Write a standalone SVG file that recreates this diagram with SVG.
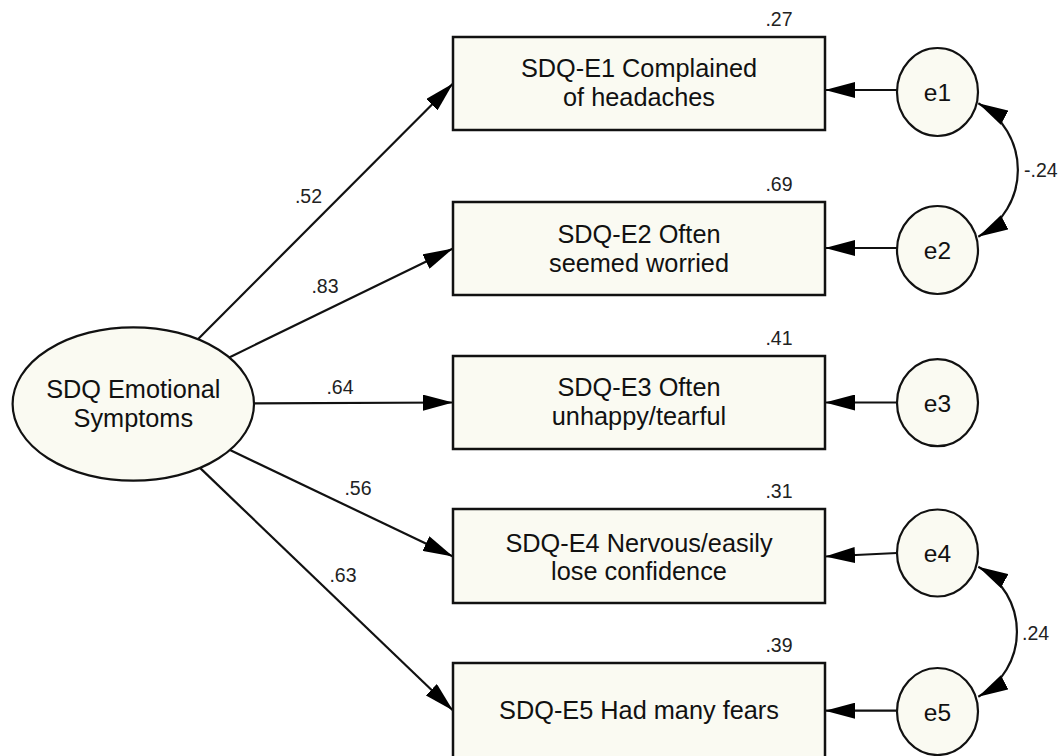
<svg xmlns="http://www.w3.org/2000/svg" width="1059" height="756" viewBox="0 0 1059 756">
<style>
.box{fill:#fafaf2;stroke:#111;stroke-width:2.5}
.lat{fill:#fafaf2;stroke:#111;stroke-width:2.2}
.t{font-family:"Liberation Sans",Arial,sans-serif;font-size:25.3px;fill:#111;text-anchor:middle}
.te{font-family:"Liberation Sans",Arial,sans-serif;font-size:24.5px;fill:#111;text-anchor:middle}
.lbl{font-family:"Liberation Sans",Arial,sans-serif;font-size:19.5px;fill:#222;text-anchor:middle}
.lblL{font-family:"Liberation Sans",Arial,sans-serif;font-size:19.5px;fill:#222;text-anchor:start}
.c{fill:none;stroke:#111;stroke-width:2.2;marker-end:url(#ah)}
.cv{fill:none;stroke:#111;stroke-width:2.2;marker-start:url(#ah);marker-end:url(#ah)}
</style>
<defs>
<marker id="ah" markerUnits="userSpaceOnUse" markerWidth="30" markerHeight="16" refX="30" refY="8" orient="auto-start-reverse" viewBox="0 0 30 16">
<path d="M0,0 L30,8 L0,16 z" fill="#000"/>
</marker>
</defs>
<rect width="1059" height="756" fill="#fff"/>
<g id="connectors">
<path class="c" d="M197.9,339.2 L453,83.5"/>
<path class="c" d="M229.2,357.4 L453,248.5"/>
<path class="c" d="M254,403.4 L453,402.5"/>
<path class="c" d="M230,450 L453,556.5"/>
<path class="c" d="M200,467.9 L453,710.5"/>
<path class="c" d="M897,90 L825,90"/>
<path class="c" d="M897,248 L825,248"/>
<path class="c" d="M897,402.5 L825,402.5"/>
<path class="c" d="M897,553 L825,556.5"/>
<path class="c" d="M897,710.7 L825,710.7"/>
<path class="cv" d="M978.3,103.3 A76 76 0 0 1 978.3,236.7"/>
<path class="cv" d="M978.3,566.7 A74 74 0 0 1 978.3,696.7"/>
<text class="lbl" x="308.5" y="203">.52</text>
<text class="lbl" x="325" y="293">.83</text>
<text class="lbl" x="340" y="394">.64</text>
<text class="lbl" x="358" y="495">.56</text>
<text class="lbl" x="343" y="582">.63</text>
<text class="lblL" x="1024" y="177">-.24</text>
<text class="lblL" x="1022" y="640">.24</text>
</g>
<g id="latent">
<ellipse class="lat" cx="133.3" cy="404" rx="120.7" ry="76.7"/>
<text class="t" x="133.3" y="398">SDQ Emotional</text>
<text class="t" x="133.3" y="427">Symptoms</text>
</g>
<g id="sdq-e1">
<rect class="box" x="453" y="37" width="372" height="93"/>
<text class="t" x="639" y="77">SDQ-E1 Complained</text>
<text class="t" x="639" y="106">of headaches</text>
<text class="lbl" x="779" y="26">.27</text>
</g>
<g id="sdq-e2">
<rect class="box" x="453" y="202" width="372" height="93"/>
<text class="t" x="639" y="243">SDQ-E2 Often</text>
<text class="t" x="639" y="272">seemed worried</text>
<text class="lbl" x="779" y="191">.69</text>
</g>
<g id="sdq-e3">
<rect class="box" x="453" y="356" width="372" height="93"/>
<text class="t" x="639" y="396">SDQ-E3 Often</text>
<text class="t" x="639" y="425">unhappy/tearful</text>
<text class="lbl" x="779" y="345">.41</text>
</g>
<g id="sdq-e4">
<rect class="box" x="453" y="509" width="372" height="94"/>
<text class="t" x="639" y="551.5">SDQ-E4 Nervous/easily</text>
<text class="t" x="639" y="580">lose confidence</text>
<text class="lbl" x="779" y="498">.31</text>
</g>
<g id="sdq-e5">
<rect class="box" x="453" y="663" width="372" height="100"/>
<text class="t" x="639" y="719">SDQ-E5 Had many fears</text>
<text class="lbl" x="779" y="652">.39</text>
</g>
<g id="e1">
<ellipse class="lat" cx="937.5" cy="92" rx="40.5" ry="44"/>
<text class="te" x="937.5" y="101">e1</text>
</g>
<g id="e2">
<ellipse class="lat" cx="937.5" cy="250" rx="40.5" ry="44"/>
<text class="te" x="937.5" y="259">e2</text>
</g>
<g id="e3">
<ellipse class="lat" cx="937.5" cy="402.7" rx="40.5" ry="43.5"/>
<text class="te" x="937.5" y="411.7">e3</text>
</g>
<g id="e4">
<ellipse class="lat" cx="937.5" cy="553" rx="40.5" ry="43.5"/>
<text class="te" x="937.5" y="562">e4</text>
</g>
<g id="e5">
<ellipse class="lat" cx="937.5" cy="711.5" rx="40.5" ry="43.5"/>
<text class="te" x="937.5" y="720.5">e5</text>
</g>
</svg>
